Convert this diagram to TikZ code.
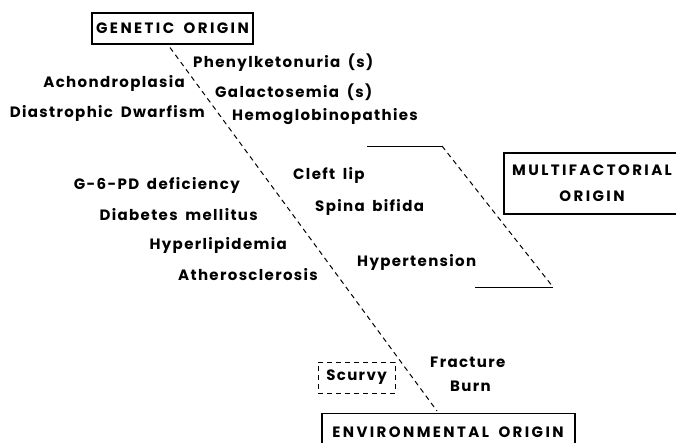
\documentclass[tikz,border=0pt]{standalone}
\usepackage{fontspec}
\setmainfont{Poppins}[LetterSpace=9,WordSpace=1.7]
\usetikzlibrary{positioning}

\begin{document}
\begin{tikzpicture}[x=1pt,y=-1pt,
  lbl/.style={font=\fontsize{15}{17}\selectfont\bfseries,inner sep=0pt},
  originbox/.style={draw,line width=1.1pt,font=\fontsize{15}{26}\selectfont\bfseries\addfontfeature{LetterSpace=16},align=center,inner sep=0pt},
  dashln/.style={line width=1pt,dash pattern=on 5pt off 4pt}]
\useasboundingbox (0,0) rectangle (676,442);
% the three origins
\node[originbox,minimum width=161pt,minimum height=31pt] (gen) at (172.5,28.5) {GENETIC ORIGIN};
\node[originbox,minimum width=176pt,minimum height=61pt] (multi) at (592,183.5) {MULTIFACTORIAL\\ORIGIN};
\node[originbox,minimum width=253pt,minimum height=40pt,anchor=north] (env) at (448.5,413) {};
\node[lbl,font=\fontsize{15}{17}\selectfont\bfseries\addfontfeature{LetterSpace=16}] (envtxt) at (448,432) {ENVIRONMENTAL ORIGIN};
% left of the line
\node[lbl,anchor=east] (achon) at (185,83) {Achondroplasia};
\node[lbl,anchor=east] (dwarf) at (205,113) {Diastrophic Dwarfism};
\node[lbl,anchor=east] (g6pd) at (240,185) {G-6-PD deficiency};
\node[lbl,anchor=east] (diab) at (258,215) {Diabetes mellitus};
\node[lbl,anchor=east] (hyperl) at (287,245) {Hyperlipidemia};
\node[lbl,anchor=east] (ather) at (318,275) {Atherosclerosis};
\node[draw,dashln,lbl,minimum width=77pt,minimum height=31pt] (scurvy) at (356.5,377.5) {Scurvy};
% right of the line
\node[lbl,anchor=west] (phenyl) at (193,63) {Phenylketonuria (s)};
\node[lbl,anchor=west] (galac) at (215,92) {Galactosemia (s)};
\node[lbl,anchor=west] (hemo) at (232,117) {Hemoglobinopathies};
\node[lbl,anchor=west] (cleft) at (293,175) {Cleft lip};
\node[lbl,anchor=west] (spina) at (315,207) {Spina bifida};
\node[lbl,anchor=west] (hypert) at (357,262) {Hypertension};
\node[lbl,anchor=west] (fract) at (430,362) {Fracture};
\node[lbl,anchor=west] (burn) at (450,386) {Burn};
% dividing lines
\coordinate (g1) at (gen.south -| 170,0);
\coordinate (e1) at (env.north -| 437,0);
\draw[dashln] ([yshift=-3pt]g1) -- ([yshift=2pt]e1);
\coordinate (m1) at (367,146);
\coordinate (m2) at (442,146);
\coordinate (m3) at (553,287);
\coordinate (m4) at (475,287);
\draw[line width=1pt] (m1) -- (m2);
\draw[dashln] (m2) -- (m3);
\draw[line width=1pt] (m3) -- (m4);
\end{tikzpicture}
\end{document}
